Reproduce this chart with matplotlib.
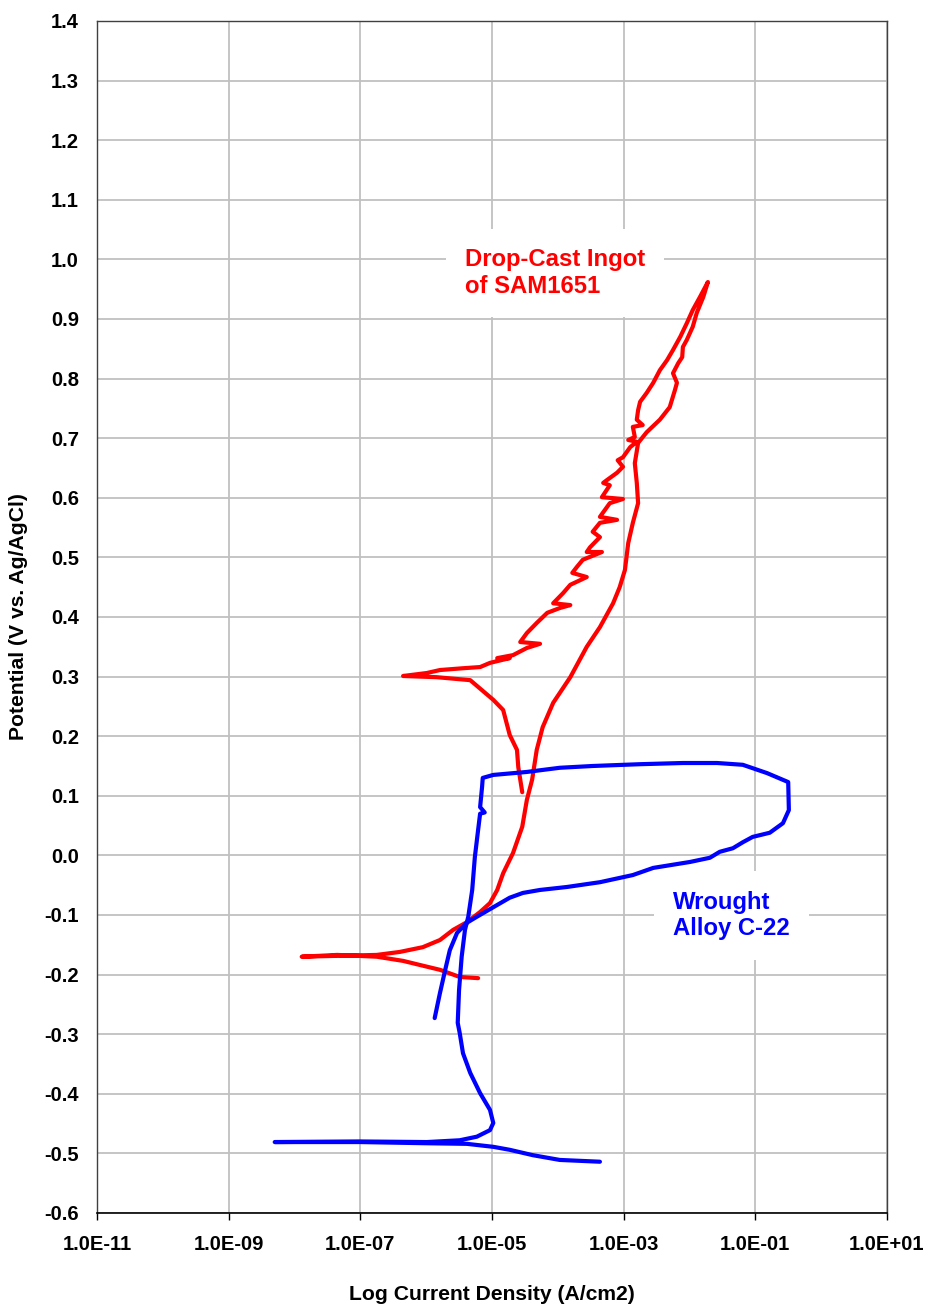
import matplotlib
matplotlib.use("Agg")
import matplotlib.pyplot as plt
import numpy as np
from matplotlib.ticker import FixedLocator, FuncFormatter, NullLocator


# ---------------------------------------------------------------------------
# Data (log10 current density, potential in V)
# ---------------------------------------------------------------------------
sam_logi = [
    # cathodic start -> corrosion potential
    -5.21, -5.49, -5.79, -6.09, -6.35, -6.75, -7.35, -7.89,
    # forward scan (smooth branch)
    -6.75, -6.40, -6.05, -5.79, -5.59, -5.38, -5.18, -5.03, -4.92, -4.83,
    -4.68, -4.54, -4.47, -4.39, -4.32, -4.23, -4.07, -3.81, -3.56, -3.36,
    -3.16, -3.06, -2.98, -2.93, -2.86, -2.78, -2.80, -2.83, -2.78, -2.65,
    -2.45, -2.30, -2.22, -2.19, -2.25, -2.17, -2.11, -2.10, -2.04, -1.95,
    -1.89, -1.79, -1.72,
    # reverse scan (jagged branch)
    -1.84, -1.95, -2.04, -2.14, -2.25, -2.34, -2.45, -2.55, -2.65, -2.75,
    -2.78, -2.80, -2.71, -2.86, -2.83, -2.93, -2.80, -2.90, -3.01, -3.09,
    -3.01, -3.10, -3.25, -3.31, -3.21, -3.33, -3.01, -3.21, -3.36, -3.10,
    -3.36, -3.47, -3.36, -3.51, -3.56, -3.33, -3.62, -3.71, -3.78, -3.56,
    -3.81, -3.92, -4.07, -3.81, -3.97, -4.16, -4.32, -4.47, -4.57, -4.27,
    -4.47, -4.68, -4.92, -4.73, -5.03, -5.18, -5.44, -5.79, -5.99, -6.35,
    # cathodic tail on the reverse scan
    -5.84, -5.33, -4.98, -4.83, -4.73, -4.62, -4.60, -4.54,
]
sam_pot = [
    -0.206, -0.204, -0.192, -0.184, -0.177, -0.170, -0.167, -0.170,
    -0.167, -0.162, -0.154, -0.142, -0.125, -0.112, -0.095, -0.080, -0.058, -0.030,
    0.004, 0.048, 0.093, 0.127, 0.177, 0.215, 0.256, 0.299, 0.350, 0.383,
    0.423, 0.450, 0.479, 0.524, 0.558, 0.591, 0.625, 0.658, 0.692, 0.710,
    0.731, 0.752, 0.781, 0.793, 0.809, 0.826, 0.836, 0.853, 0.865, 0.887,
    0.910, 0.937, 0.962,
    0.937, 0.915, 0.893, 0.870, 0.848, 0.831, 0.814, 0.793, 0.776, 0.761,
    0.747, 0.731, 0.722, 0.719, 0.702, 0.697, 0.694, 0.685, 0.668, 0.663,
    0.652, 0.642, 0.630, 0.625, 0.621, 0.601, 0.598, 0.591, 0.568, 0.563,
    0.558, 0.543, 0.534, 0.517, 0.509, 0.509, 0.496, 0.484, 0.474, 0.467,
    0.454, 0.440, 0.423, 0.420, 0.415, 0.407, 0.390, 0.373, 0.358, 0.355,
    0.348, 0.336, 0.331, 0.331, 0.323, 0.316, 0.314, 0.311, 0.306, 0.301,
    0.299, 0.294, 0.261, 0.244, 0.202, 0.177, 0.148, 0.106,
]

c22_logi = [
    # cathodic start -> corrosion potential
    -3.36, -3.97, -4.38, -4.73, -4.98, -5.38, -5.99, -7.00, -8.30,
    # back out and up the passive region
    -7.00, -5.99, -5.49, -5.23, -5.03, -4.98, -5.03, -5.18, -5.33, -5.44,
    -5.49, -5.52, -5.50, -5.46, -5.41, -5.36, -5.30, -5.26, -5.21, -5.18,
    -5.11, -5.18, -5.15, -5.14,
    # breakdown and transpassive loop
    -4.98, -4.47, -3.97, -3.47, -2.75, -2.10, -1.58, -1.19, -0.82, -0.50,
    -0.49,
    # reverse scan
    -0.58, -0.78, -1.04, -1.19, -1.34, -1.54, -1.69, -1.99, -2.55, -2.86,
    -3.36, -3.86, -4.27, -4.53, -4.73, -4.98, -5.23, -5.38, -5.53, -5.64,
    -5.71, -5.79, -5.87,
]
c22_pot = [
    -0.514, -0.511, -0.503, -0.494, -0.489, -0.484, -0.483, -0.481, -0.481,
    -0.480, -0.481, -0.478, -0.472, -0.461, -0.449, -0.427, -0.399, -0.365, -0.332,
    -0.298, -0.281, -0.226, -0.170, -0.125, -0.103, -0.058, -0.003, 0.043, 0.070,
    0.072, 0.081, 0.115, 0.130,
    0.135, 0.140, 0.147, 0.150, 0.153, 0.155, 0.155, 0.152, 0.138, 0.123,
    0.076,
    0.054, 0.038, 0.031, 0.022, 0.012, 0.006, -0.004, -0.011, -0.021, -0.033,
    -0.045, -0.053, -0.058, -0.063, -0.071, -0.087, -0.103, -0.113, -0.130, -0.159,
    -0.192, -0.231, -0.273,
]

x_tick_exp = [-11, -9, -7, -5, -3, -1, 1]
y_ticks = np.round(np.arange(-0.6, 1.41, 0.1), 1)

FONT = "Liberation Sans"
plt.rcParams["font.family"] = [FONT, "DejaVu Sans"]
plt.rcParams["font.weight"] = "bold"


def _fmt_pot(v, _):
    s = f"{v:.1f}"
    return "0.0" if s == "-0.0" else s


fig = plt.figure(figsize=(9.27, 13.04), dpi=100)
ax = fig.add_axes([0.1046, 0.0698, 0.8522, 0.9141])

ax.plot(10.0 ** np.array(sam_logi), sam_pot, color="#ff0000", lw=3.0,
        solid_joinstyle="round", solid_capstyle="round", zorder=3)
ax.plot(10.0 ** np.array(c22_logi), c22_pot, color="#0000ff", lw=3.0,
        solid_joinstyle="round", solid_capstyle="round", zorder=3)

ax.set_xscale("log")
ax.set_xlim(1e-11, 10.0)
ax.set_ylim(-0.6, 1.4)

ax.xaxis.set_major_locator(FixedLocator([10.0 ** e for e in x_tick_exp]))
ax.xaxis.set_minor_locator(NullLocator())
ax.xaxis.set_major_formatter(FuncFormatter(lambda v, _: f"{v:.1E}"))
ax.set_yticks(y_ticks)
ax.yaxis.set_major_formatter(FuncFormatter(_fmt_pot))

ax.grid(True, color="#c0c0c0", lw=1.3)
ax.set_axisbelow(True)

ax.tick_params(axis="x", direction="out", length=5, width=1, color="black",
               pad=11, labelsize=14.5)
ax.tick_params(axis="y", length=0, pad=13, labelsize=14.5)
for lab in ax.get_xticklabels() + ax.get_yticklabels():
    lab.set_fontweight("bold")

for side in ("left", "top", "right"):
    ax.spines[side].set_color("#404040")
    ax.spines[side].set_linewidth(1.0)
ax.spines["bottom"].set_color("black")
ax.spines["bottom"].set_linewidth(1.2)

ax.set_xlabel("Log Current Density (A/cm2)", fontsize=15.2, fontweight="bold",
              labelpad=22)
ax.set_ylabel("Potential (V vs. Ag/AgCl)", fontsize=15.2, fontweight="bold",
              labelpad=12)

# series labels in white boxes (as in the source chart)
ax.text(10 ** -5.41, 0.944, "Drop-Cast Ingot\nof SAM1651", color="#ff0000",
        fontsize=17.2, fontweight="bold", ha="left", va="baseline",
        bbox=dict(facecolor="white", edgecolor="none", pad=14), zorder=2)
ax.text(10 ** -2.25, -0.134, "Wrought\nAlloy C-22", color="#0000ff",
        fontsize=17.2, fontweight="bold", ha="left", va="baseline",
        bbox=dict(facecolor="white", edgecolor="none", pad=14), zorder=2)

fig.savefig("out.png", dpi=100, facecolor="white")
